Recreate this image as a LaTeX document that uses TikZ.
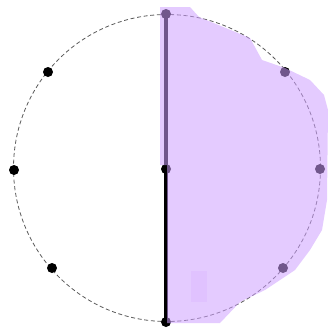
\documentclass[tikz,border=0pt]{standalone}
\usepackage{tikz}
\usetikzlibrary{positioning,calc}
\definecolor{lilac}{RGB}{206,160,255}

\begin{document}
\begin{tikzpicture}[x=0.75pt,y=-0.75pt,
  dot/.style={circle,fill=black,inner sep=0pt,minimum size=7.5pt},
  ring/.style={densely dashed,gray!70!black,line width=0.6pt}]
\useasboundingbox (0,0) rectangle (331,336);
\draw[ring] (167,168) circle (153.5);
\node[dot] (t) at (166,14) {};
\node[dot] (tr) at (285,72) {};
\node[dot] (r) at (320,169) {};
\node[dot] (br) at (283,268) {};
\node[dot] (b) at (166,322) {};
\node[dot] (bl) at (52,268) {};
\node[dot] (l) at (14,170) {};
\node[dot] (tl) at (48,72) {};
\node[dot] (c) at (166,169) {};
\draw[line width=3pt] (t.center) -- (b.center);
% shaded half
\fill[lilac,fill opacity=0.55] (160,7) -- (190,7) -- (199,17) -- (250,38) -- (262,60)
  -- (285,68) -- (310,80) -- (324,95) -- (328,110) -- (327,200) -- (322,230)
  -- (310,250) -- (295,270) -- (265,290) -- (240,302) -- (220,323) -- (167,323)
  -- (167,165) -- (160,165) -- cycle;
\fill[lilac,fill opacity=0.2] (191,271) rectangle (207,302);
\end{tikzpicture}
\end{document}
